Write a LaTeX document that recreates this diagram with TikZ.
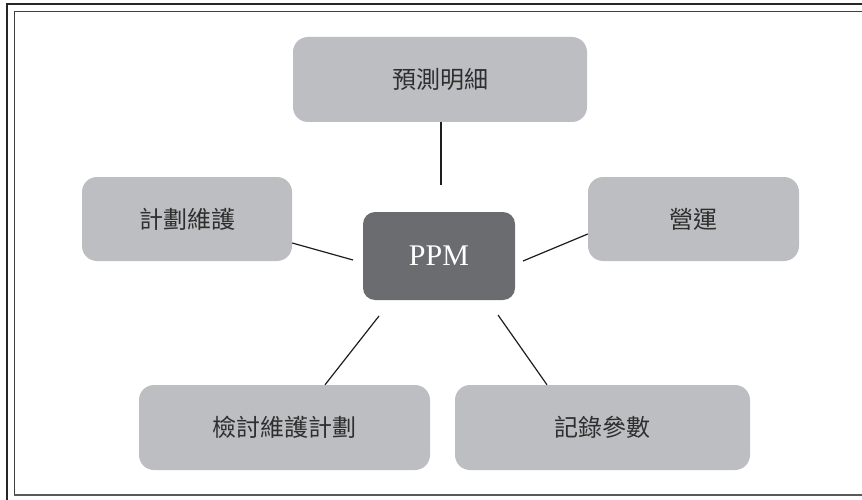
\documentclass[tikz,border=0pt]{standalone}
\usepackage{fontspec}
\setmainfont{Liberation Serif}
\newfontfamily\cjk{Noto Sans CJK TC}
\definecolor{boxgray}{HTML}{BDBEC1}
\definecolor{darkbox}{HTML}{6B6C70}
\definecolor{txt}{HTML}{2E2E2E}
\definecolor{linec}{HTML}{1E1E1E}
\begin{document}
\begin{tikzpicture}[x=1pt,y=-1pt,
  leaf/.style={fill=boxgray,rounded corners=15pt,inner sep=0pt,text=txt,font=\cjk\fontsize{24}{28}\selectfont},
  hub/.style={fill=darkbox,rounded corners=12pt,inner sep=0pt,text=white,font=\fontsize{30}{34}\selectfont},
  conn/.style={draw=linec,line width=1.2pt}]
\useasboundingbox (0,0) rectangle (862,500);
% frame
\draw[line width=2.2pt,color=black!85] (862,4) -- (7,4) -- (7,500);
\draw[line width=1pt,color=black!75] (862,11.5) -- (14,11.5) -- (14,495);
\draw[line width=1.8pt,color=black!65] (14,495) -- (862,495);
% nodes
\node[hub,minimum width=152pt,minimum height=88pt] (ppm) at (439,256) {PPM};
\node[leaf,minimum width=294pt,minimum height=85pt] (top) at (440,79.5) {預測明細};
\node[leaf,minimum width=210pt,minimum height=84pt] (left) at (187,219) {計劃維護};
\node[leaf,minimum width=211pt,minimum height=84pt] (right) at (693.5,219) {營運};
\node[leaf,minimum width=291pt,minimum height=85pt] (bl) at (284.5,427.5) {檢討維護計劃};
\node[leaf,minimum width=295pt,minimum height=85pt] (br) at (602.5,427.5) {記錄參數};
% free ends near the hub
\coordinate (e1) at (441,185);
\coordinate (e2) at (353,260);
\coordinate (e3) at (523,261);
\coordinate (e4) at (379,316);
\coordinate (e5) at (498,315);
% connectors
\draw[conn] ([xshift=1pt]top.south) -- (e1);
\draw[conn] ([yshift=-24pt]left.east) -- (e2);
\draw[conn] ([yshift=-15pt]right.west) -- (e3);
\draw[conn] ([xshift=40.5pt]bl.north) -- (e4);
\draw[conn] ([xshift=-55.5pt]br.north) -- (e5);
\end{tikzpicture}
\end{document}
